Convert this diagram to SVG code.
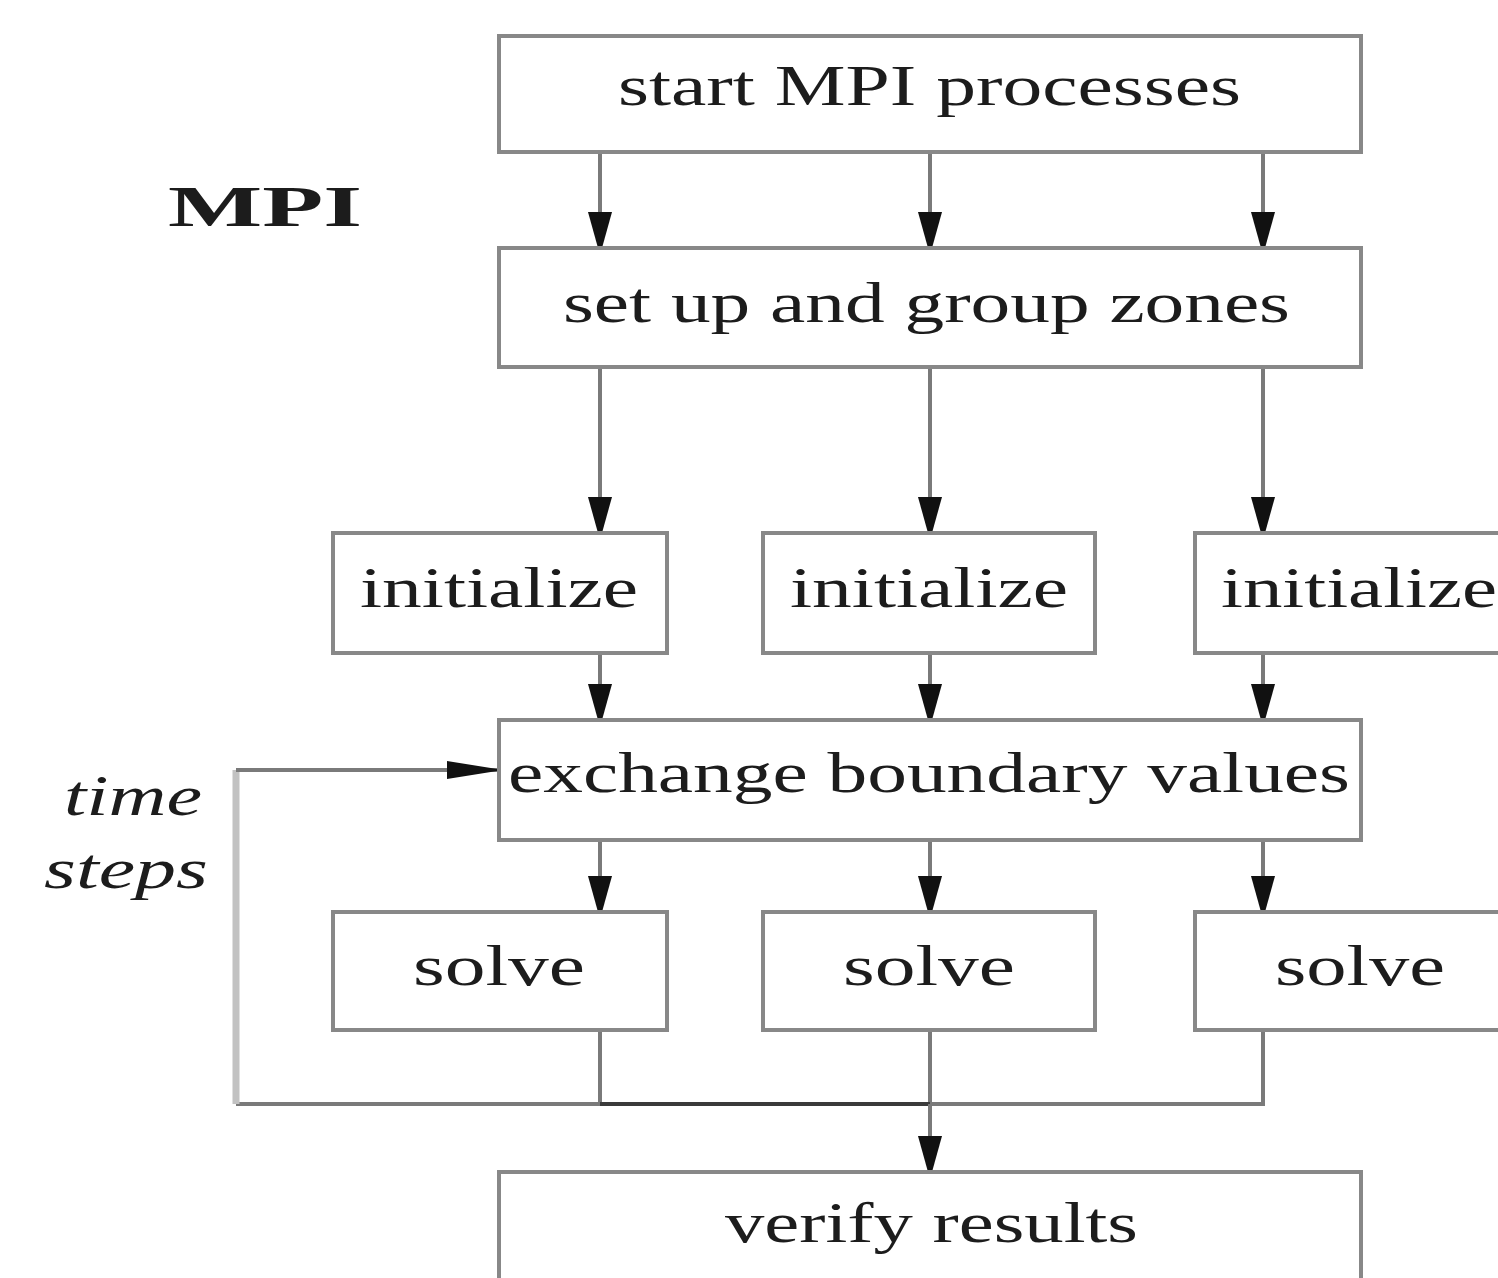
<svg xmlns="http://www.w3.org/2000/svg" width="1498" height="1278" viewBox="0 0 1498 1278">
<style>
.box{fill:#fff;stroke:#888;stroke-width:4}
.t{font-family:"Liberation Serif","Times New Roman",serif;font-size:56px;fill:#1c1c1c}
.conn{fill:none;stroke:#7a7a7a;stroke-width:4}
.ah{fill:#111}
</style>
<defs>
<marker id="arr" viewBox="0 0 36 24" refX="36" refY="12" markerWidth="36" markerHeight="24" markerUnits="userSpaceOnUse" orient="auto">
<path d="M0,0 L36,10 L36,14 L0,24 Z" class="ah"/>
</marker>
<marker id="arrL" viewBox="0 0 50 18" refX="50" refY="9" markerWidth="50" markerHeight="18" markerUnits="userSpaceOnUse" orient="auto">
<path d="M0,0 L50,8 L50,10 L0,18 Z" class="ah"/>
</marker>
</defs>
<rect width="1498" height="1278" fill="#fff"/>
<text class="t" x="168" y="226" font-weight="bold" font-size="65" textLength="194" lengthAdjust="spacingAndGlyphs">MPI</text>
<text class="t" x="64" y="815" font-style="italic" textLength="138" lengthAdjust="spacingAndGlyphs">time</text>
<text class="t" x="44" y="888" font-style="italic" textLength="164" lengthAdjust="spacingAndGlyphs">steps</text>
<g id="connectors">
<line class="conn" x1="600" y1="152" x2="600" y2="248" marker-end="url(#arr)"/>
<line class="conn" x1="930" y1="152" x2="930" y2="248" marker-end="url(#arr)"/>
<line class="conn" x1="1263" y1="152" x2="1263" y2="248" marker-end="url(#arr)"/>
<line class="conn" x1="600" y1="367" x2="600" y2="533" marker-end="url(#arr)"/>
<line class="conn" x1="930" y1="367" x2="930" y2="533" marker-end="url(#arr)"/>
<line class="conn" x1="1263" y1="367" x2="1263" y2="533" marker-end="url(#arr)"/>
<line class="conn" x1="600" y1="653" x2="600" y2="720" marker-end="url(#arr)"/>
<line class="conn" x1="930" y1="653" x2="930" y2="720" marker-end="url(#arr)"/>
<line class="conn" x1="1263" y1="653" x2="1263" y2="720" marker-end="url(#arr)"/>
<line class="conn" x1="600" y1="840" x2="600" y2="912" marker-end="url(#arr)"/>
<line class="conn" x1="930" y1="840" x2="930" y2="912" marker-end="url(#arr)"/>
<line class="conn" x1="1263" y1="840" x2="1263" y2="912" marker-end="url(#arr)"/>
<polyline class="conn" points="600,1030 600,1104 236,1104"/>
<polyline class="conn" points="1263,1030 1263,1104 930,1104"/>
<line class="conn" x1="930" y1="1030" x2="930" y2="1104"/>
<line class="conn" x1="600" y1="1104" x2="930" y2="1104" style="stroke:#3a3a3a"/>
<line class="conn" x1="930" y1="1104" x2="930" y2="1172" marker-end="url(#arr)"/>
<line x1="236" y1="1104" x2="236" y2="770" style="stroke:#c2c2c2;stroke-width:7"/>
<line class="conn" x1="236" y1="770" x2="497" y2="770" marker-end="url(#arrL)"/>
</g>
<g id="start">
<rect class="box" x="499" y="36" width="862" height="116"/>
<text class="t" x="618" y="105" textLength="623" lengthAdjust="spacingAndGlyphs">start MPI processes</text>
</g>
<g id="setup">
<rect class="box" x="499" y="248" width="862" height="119"/>
<text class="t" x="563" y="322" textLength="727" lengthAdjust="spacingAndGlyphs">set up and group zones</text>
</g>
<g id="init1">
<rect class="box" x="333" y="533" width="334" height="120"/>
<text class="t" x="360" y="607" textLength="278" lengthAdjust="spacingAndGlyphs">initialize</text>
</g>
<g id="init2">
<rect class="box" x="763" y="533" width="332" height="120"/>
<text class="t" x="790" y="607" textLength="278" lengthAdjust="spacingAndGlyphs">initialize</text>
</g>
<g id="init3">
<rect class="box" x="1195" y="533" width="340" height="120"/>
<text class="t" x="1221" y="607" textLength="276" lengthAdjust="spacingAndGlyphs">initialize</text>
</g>
<g id="exchange">
<rect class="box" x="499" y="720" width="862" height="120"/>
<text class="t" x="508" y="792" textLength="842" lengthAdjust="spacingAndGlyphs">exchange boundary values</text>
</g>
<g id="solve1">
<rect class="box" x="333" y="912" width="334" height="118"/>
<text class="t" x="413" y="985" textLength="172" lengthAdjust="spacingAndGlyphs">solve</text>
</g>
<g id="solve2">
<rect class="box" x="763" y="912" width="332" height="118"/>
<text class="t" x="843" y="985" textLength="172" lengthAdjust="spacingAndGlyphs">solve</text>
</g>
<g id="solve3">
<rect class="box" x="1195" y="912" width="340" height="118"/>
<text class="t" x="1275" y="985" textLength="170" lengthAdjust="spacingAndGlyphs">solve</text>
</g>
<g id="verify">
<rect class="box" x="499" y="1172" width="862" height="130"/>
<text class="t" x="725" y="1242" textLength="413" lengthAdjust="spacingAndGlyphs">verify results</text>
</g>
</svg>
